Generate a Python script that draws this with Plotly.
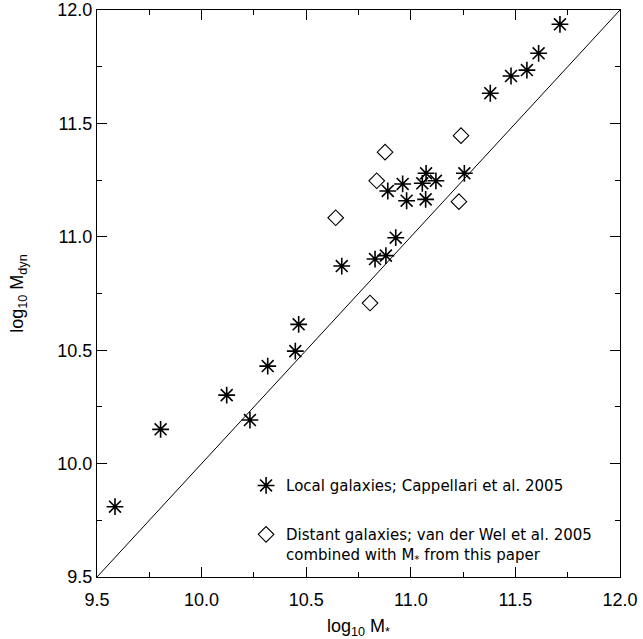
import plotly.graph_objects as go

# Local galaxies (Cappellari et al. 2005)
local_x = [9.586, 9.804, 10.120, 10.231, 10.316, 10.448, 10.464, 10.670, 10.829, 10.881,
           10.928, 10.890, 10.961, 10.980, 11.055, 11.071, 11.073, 11.120, 11.256, 11.380,
           11.479, 11.555, 11.611, 11.713]
local_y = [9.810, 10.151, 10.302, 10.192, 10.430, 10.496, 10.614, 10.871, 10.902, 10.917,
           10.996, 11.202, 11.233, 11.159, 11.236, 11.165, 11.280, 11.247, 11.280, 11.633,
           11.709, 11.735, 11.809, 11.937]

# Distant galaxies (van der Wel et al. 2005)
distant_x = [10.641, 10.805, 10.837, 10.877, 11.230, 11.240]
distant_y = [11.084, 10.708, 11.247, 11.373, 11.155, 11.446]

# one-to-one line
line_xy = [9.5, 12.0]

axis_range = [9.5, 12.0]

FONT = "Liberation Sans"
LEG_FONT = "DejaVu Sans"

fig = go.Figure()

fig.add_trace(go.Scatter(
    x=line_xy, y=line_xy, mode="lines",
    line=dict(color="black", width=1),
    showlegend=False, hoverinfo="skip",
))

fig.add_trace(go.Scatter(
    x=local_x, y=local_y, mode="markers",
    marker=dict(symbol="asterisk-open", size=14, color="black",
                line=dict(color="black", width=1.6)),
    name="Local galaxies; Cappellari et al. 2005",
    legend="legend",
    cliponaxis=False,
))

fig.add_trace(go.Scatter(
    x=distant_x, y=distant_y, mode="markers",
    marker=dict(symbol="diamond-open", size=12, color="black",
                line=dict(color="black", width=1.1)),
    name="Distant galaxies; van der Wel et al. 2005<br>combined with M<sub>*</sub> from this paper",
    legend="legend2",
    cliponaxis=False,
))

axis_common = dict(
    range=axis_range, automargin=False,
    tickmode="linear", tick0=9.5, dtick=0.5, tickformat=".1f",
    ticks="inside", ticklen=10, tickwidth=1.2, tickcolor="#000000",
    showline=True, linecolor="black", linewidth=1.2, mirror="allticks",
    showgrid=False, zeroline=False,
    tickfont=dict(family=FONT, size=18, color="black"),
    minor=dict(ticks="inside", ticklen=5, tickwidth=1.2, tickcolor="#000000",
               dtick=0.25, showgrid=False),
)

fig.update_xaxes(**axis_common,
                 ticklabelstandoff=6,
                 title=dict(text="log<sub>10</sub> M<sub>*</sub>",
                            font=dict(family=FONT, size=18, color="black"),
                            standoff=12))
fig.update_yaxes(**axis_common,
                 title=dict(text="log<sub>10</sub> M<sub>dyn</sub>",
                            font=dict(family=FONT, size=18, color="black"),
                            standoff=28))

legend_common = dict(
    xanchor="left", x=0.285,
    bgcolor="rgba(0,0,0,0)", borderwidth=0,
    font=dict(family=LEG_FONT, size=15, color="black"),
    valign="top",
)

fig.update_layout(
    template="none",
    width=643, height=639,
    margin=dict(l=97, r=23, t=10, b=62),
    paper_bgcolor="white", plot_bgcolor="white",
    legend=dict(**legend_common, yanchor="middle", y=0.161),
    legend2=dict(**legend_common, yanchor="middle", y=0.058),
)

fig.write_html("out.html")
